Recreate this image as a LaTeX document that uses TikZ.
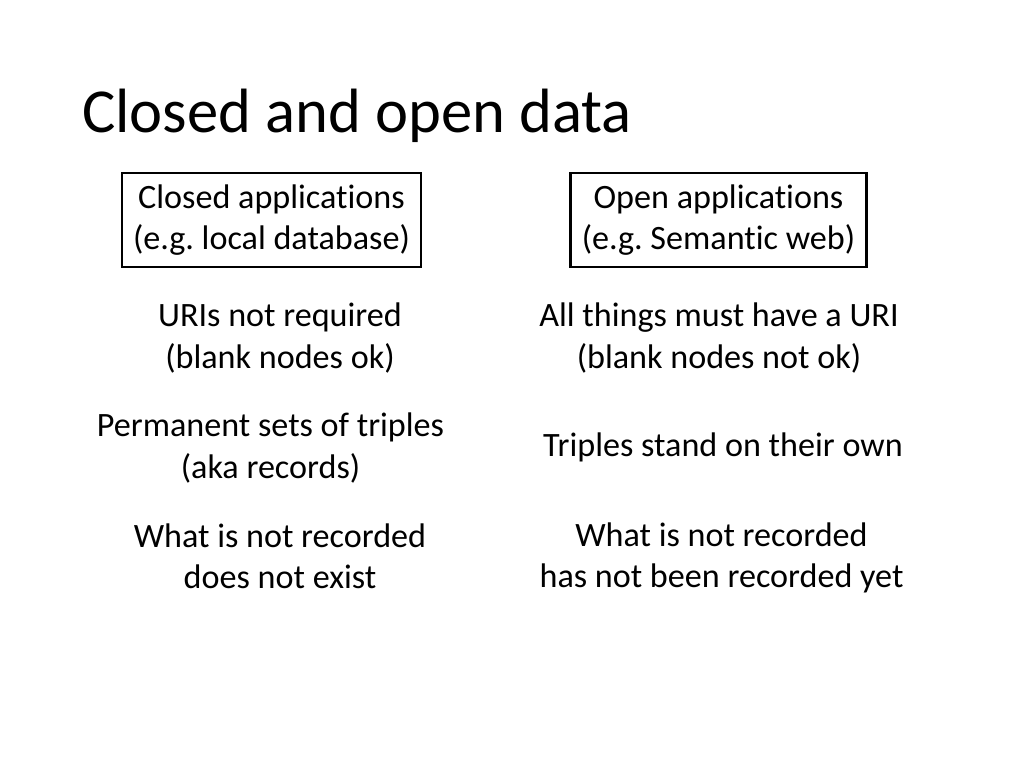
\documentclass[tikz,border=0pt]{standalone}
\usepackage{fontspec}
\setmainfont{Carlito}[Ligatures=NoCommon]
\frenchspacing

\tikzset{
    appbox/.style={draw, line width=1.6pt, align=center, inner xsep=8pt, inner ysep=8pt},
    point/.style={align=center}
}

\begin{document}
\begin{tikzpicture}[x=0.703125pt, y=-0.703125pt, font=\fontsize{24}{29}\selectfont]

    \useasboundingbox (0,0) rectangle (1024,768);

    \node[anchor=base west, inner sep=0pt, font=\fontsize{44}{53}\selectfont] (title) at (82,133)
    {Closed and open data};

    \node[appbox] (closedapp) at (271.5,220) {Closed applications\\(e.g. local database)};
    \node[appbox] (openapp) at (718.5,220) {Open applications\\(e.g. Semantic web)};

    \node[point] (closeduri) at (280,338) {URIs not required\\(blank nodes ok)};
    \node[point] (openuri) at (719,338) {All things must have a URI\\(blank nodes not ok)};

    \node[point] (closedrec) at (270.5,448) {Permanent sets of triples\\(aka records)};
    \node[point] (openrec) at (723,447) {Triples stand on their own};

    \node[point] (closedexist) at (280,556) {What is not recorded\\does not exist};
    \node[point] (openexist) at (721.5,558) {What is not recorded\\has not been recorded yet};

\end{tikzpicture}
\end{document}
